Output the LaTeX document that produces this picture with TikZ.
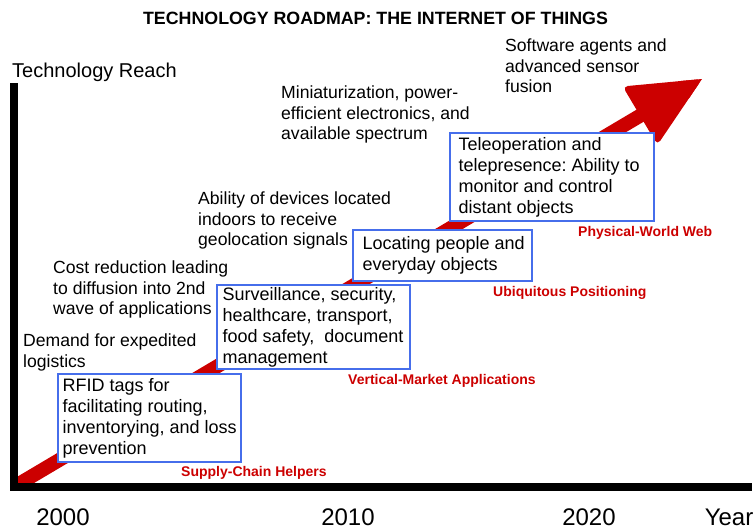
\documentclass[tikz,border=0pt]{standalone}
\usepackage{fontspec}
\setmainfont{Liberation Sans}
\definecolor{arrowred}{RGB}{204,0,0}
\definecolor{boxblue}{RGB}{70,110,235}
\begin{document}
\frenchspacing
\begin{tikzpicture}[x=1pt,y=-1pt,
  box/.style={draw=boxblue, line width=1.2pt, fill=white, inner sep=0pt},
  boxtxt/.style={inner sep=0pt, align=left, font=\fontsize{18}{21}\selectfont, anchor=west},
  lbl/.style={inner sep=0pt, align=left, font=\fontsize{17.6}{20.3}\selectfont, anchor=north west},
  phase/.style={inner sep=0pt, anchor=base west, text=arrowred, font=\fontsize{14}{16}\selectfont\bfseries},
  yr/.style={inner sep=0pt, anchor=base, font=\fontsize{24}{28}\selectfont},
  axisbar/.style={line width=8pt, black, line join=miter}
]
\useasboundingbox (0,0) rectangle (756,531);

% title
\node[inner sep=0pt, anchor=base, font=\fontsize{17.8}{21}\selectfont\bfseries] (title) at (375.5,24) {TECHNOLOGY ROADMAP: THE INTERNET OF THINGS};

% red roadmap arrow
\begin{scope}
  \clip (14,0) rectangle (756,487);
  \fill[arrowred] (-15.57,496.2) -- (640.80,107.14) -- (647.94,119.18) -- (-8.43,508.2) -- cycle;
  \fill[arrowred, rounded corners=5pt] (622.73,86.46) -- (702,79) -- (657.41,144.96) -- cycle;
  \fill[arrowred] (702,79) -- (678.22,81.24) -- (688.62,98.79) -- cycle;
\end{scope}

% boxes
\node[box, minimum width=183pt, minimum height=88pt] (rfid) at (149.5,418) {};
\node[boxtxt] (rfidt) at ([xshift=5pt]rfid.west) {RFID tags for\\facilitating routing,\\inventorying, and loss\\prevention};

\node[box, minimum width=193pt, minimum height=84pt] (surv) at (313.5,327) {};
\node[boxtxt] (survt) at ([xshift=6pt]surv.west) {Surveillance, security,\\healthcare, transport,\\food safety, \ document\\management};

\node[box, minimum width=179pt, minimum height=51pt] (loc) at (442.5,255.5) {};
\node[boxtxt] (loct) at ([xshift=10pt]loc.west) {Locating people and\\everyday objects};

\node[box, minimum width=204pt, minimum height=88pt] (tele) at (552,177) {};
\node[boxtxt] (telet) at ([xshift=9pt]tele.west) {Teleoperation and\\telepresence: Ability to\\monitor and control\\distant objects};

% driver labels
\node[lbl] (demand) at (23,334) {Demand for expedited\\logistics};
\node[lbl] (cost) at (53,261) {Cost reduction leading\\to diffusion into 2nd\\wave of applications};
\node[lbl] (ability) at (198,192) {Ability of devices located\\indoors to receive\\geolocation signals};
\node[lbl] (mini) at (281,86) {Miniaturization, power-\\efficient electronics, and\\available spectrum};
\node[lbl] (soft) at (505,39) {Software agents and\\advanced sensor\\fusion};

% phase labels
\node[phase] (ph1) at (181,476) {Supply-Chain Helpers};
\node[phase] (ph2) at (348,384) {Vertical-Market Applications};
\node[phase] (ph3) at (493,296) {Ubiquitous Positioning};
\node[phase] (ph4) at (578,236.7) {Physical-World Web};

% axes
\coordinate (ytop) at (14,83);
\coordinate (origin) at (14,487);
\coordinate (xend) at (752,487);
\draw[axisbar] (ytop) -- (origin) -- (xend);

\node[inner sep=0pt, anchor=base west, font=\fontsize{20}{24}\selectfont] (reach) at (12,77.5) {Technology Reach};
\node[yr] (y2000) at (63,525) {2000};
\node[yr] (y2010) at (348,525) {2010};
\node[yr] (y2020) at (589,525) {2020};
\node[yr] (yyear) at (729,525) {Year};
\end{tikzpicture}
\end{document}
